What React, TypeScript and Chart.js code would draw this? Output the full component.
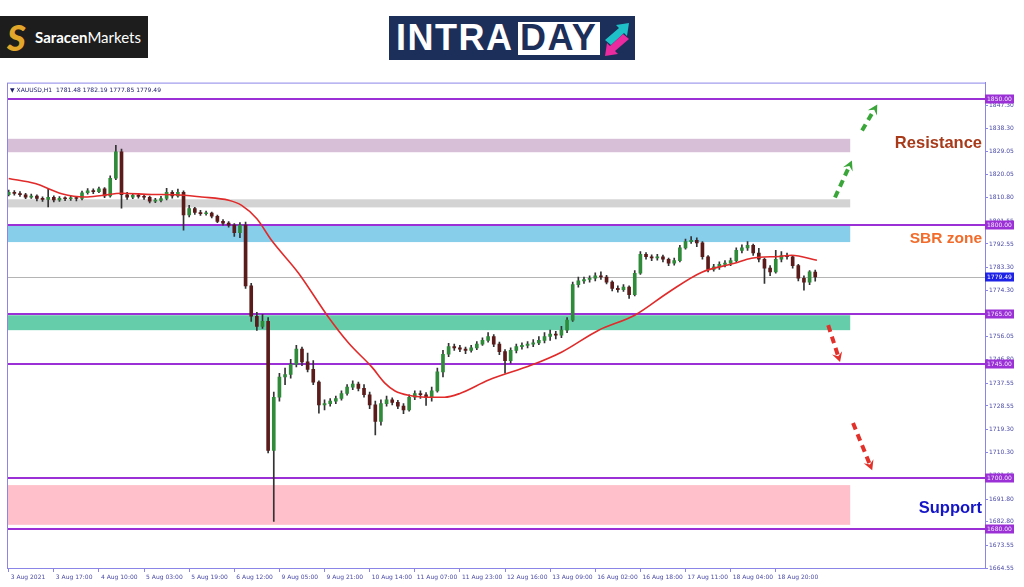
import React, { useEffect, useRef } from "react";
import { Chart, registerables } from "chart.js";
Chart.register(...registerables);

// ---------- data ----------
const xTickIdx = [0, 8, 16, 24, 32, 40, 48, 56, 64, 72, 80, 88, 96, 104, 112, 120, 128, 136];
const xTickLabels = ["3 Aug 2021", "3 Aug 17:00", "4 Aug 10:00", "5 Aug 03:00", "5 Aug 19:00", "6 Aug 12:00", "9 Aug 05:00", "9 Aug 21:00", "10 Aug 14:00", "11 Aug 07:00", "11 Aug 23:00", "12 Aug 16:00", "13 Aug 09:00", "16 Aug 02:00", "16 Aug 18:00", "17 Aug 11:00", "18 Aug 04:00", "18 Aug 20:00"];
const yTicks = [1847.3, 1838.3, 1829.05, 1820.05, 1810.8, 1801.55, 1792.55, 1783.3, 1774.3, 1765.05, 1756.05, 1746.8, 1737.55, 1728.55, 1719.3, 1710.3, 1701.05, 1691.8, 1682.8, 1673.55, 1664.55];

const opens = [1812.0,1813.0,1812.5,1812.0,1811.0,1811.5,1810.5,1810.2,1811.0,1810.0,
1810.6,1810.4,1810.8,1810.5,1812.8,1813.5,1813.2,1814.3,1811.5,1818.5,
1829.0,1812.0,1811.0,1811.8,1811.3,1811.0,1809.5,1809.8,1810.5,1813.0,
1811.5,1813.0,1804.0,1806.5,1805.0,1804.5,1804.8,1803.5,1801.5,1800.8,
1800.0,1797.0,1800.0,1776.0,1764.0,1760.0,1762.0,1711.0,1732.0,1740.0,
1741.0,1745.0,1751.0,1746.0,1743.0,1738.0,1729.0,1729.5,1730.5,1731.5,
1733.5,1736.0,1737.2,1735.5,1733.0,1729.0,1722.5,1729.5,1731.0,1730.0,
1728.5,1727.0,1732.0,1733.5,1733.0,1732.0,1734.5,1742.0,1749.0,1752.0,
1751.5,1751.0,1750.5,1751.5,1753.0,1754.5,1756.0,1753.0,1750.0,1746.5,
1750.5,1752.0,1752.5,1753.0,1753.5,1754.5,1756.0,1757.0,1756.5,1758.5,
1762.5,1776.5,1778.0,1778.5,1779.0,1780.0,1779.5,1777.5,1775.0,1774.5,
1775.5,1772.5,1781.0,1788.5,1787.5,1787.0,1787.5,1786.5,1785.0,1786.0,
1791.0,1793.5,1794.0,1793.0,1787.5,1782.5,1783.5,1784.5,1785.0,1786.0,
1790.0,1791.0,1792.0,1789.0,1786.5,1783.0,1781.5,1786.5,1788.0,1787.5,
1784.0,1779.0,1777.5,1781.48];
const closes = [1813.0,1812.5,1812.0,1811.0,1811.5,1810.5,1810.2,1811.0,1810.0,1810.6,
1810.4,1810.8,1810.5,1812.8,1813.5,1813.2,1814.3,1811.5,1818.5,1829.0,
1812.0,1811.0,1811.8,1811.3,1811.0,1809.5,1809.8,1810.5,1813.0,1811.5,
1813.0,1804.0,1806.5,1805.0,1804.5,1804.8,1803.5,1801.5,1800.8,1800.0,
1797.0,1800.0,1776.0,1764.0,1760.0,1762.0,1711.0,1732.0,1740.0,1741.0,
1745.0,1751.0,1746.0,1743.0,1738.0,1729.0,1729.5,1730.5,1731.5,1733.5,
1736.0,1737.2,1735.5,1733.0,1729.0,1722.5,1729.5,1731.0,1730.0,1728.5,
1727.0,1732.0,1733.5,1733.0,1732.0,1734.5,1742.0,1749.0,1752.0,1751.5,
1751.0,1750.5,1751.5,1753.0,1754.5,1756.0,1753.0,1750.0,1746.5,1750.5,
1752.0,1752.5,1753.0,1753.5,1754.5,1756.0,1757.0,1756.5,1758.5,1762.5,
1776.5,1778.0,1778.5,1779.0,1780.0,1779.5,1777.5,1775.0,1774.5,1775.5,
1772.5,1781.0,1788.5,1787.5,1787.0,1787.5,1786.5,1785.0,1786.0,1791.0,
1793.5,1794.0,1793.0,1787.5,1782.5,1783.5,1784.5,1785.0,1786.0,1790.0,
1791.0,1792.0,1789.0,1786.5,1783.0,1781.5,1786.5,1788.0,1787.5,1784.0,
1779.0,1777.5,1781.5,1779.49];
const highs = [1813.8,1813.6,1813.2,1812.6,1812.3,1812.0,1811.2,1814.3,1811.6,1811.3,
1811.2,1811.5,1811.4,1813.4,1814.4,1814.3,1815.0,1814.8,1819.5,1831.5,
1830.0,1813.0,1812.6,1812.4,1812.0,1811.5,1810.6,1811.4,1814.5,1813.6,
1814.2,1813.5,1807.8,1807.0,1805.8,1805.5,1805.2,1804.0,1802.2,1801.4,
1800.6,1801.0,1801.2,1777.0,1765.5,1764.8,1763.5,1734.0,1741.5,1743.5,
1747.0,1752.5,1751.8,1749.5,1746.5,1738.5,1731.0,1731.5,1732.5,1734.5,
1737.0,1738.5,1738.0,1737.0,1734.0,1730.5,1731.0,1732.5,1731.8,1730.8,
1729.5,1733.0,1734.5,1734.5,1733.8,1736.0,1743.5,1750.5,1753.3,1753.0,
1752.5,1751.8,1752.5,1754.0,1755.5,1757.5,1756.8,1753.8,1750.8,1751.5,
1753.0,1753.5,1754.0,1754.8,1756.0,1757.5,1758.5,1758.0,1760.0,1763.5,
1777.5,1779.5,1779.5,1780.0,1781.2,1781.5,1780.2,1778.0,1776.0,1776.5,
1776.0,1782.0,1789.5,1789.2,1788.3,1788.5,1788.2,1787.0,1787.0,1792.0,
1794.5,1795.5,1795.0,1793.5,1788.0,1784.5,1785.5,1786.0,1787.0,1791.0,
1792.2,1793.5,1792.5,1790.8,1787.0,1784.0,1790.0,1789.5,1789.0,1788.0,
1784.5,1780.0,1782.0,1782.19];
const lows = [1811.5,1811.8,1811.3,1810.4,1810.5,1809.6,1809.4,1807.2,1809.2,1809.4,
1809.7,1809.8,1809.6,1810.0,1812.2,1812.4,1812.8,1810.8,1811.0,1818.0,
1806.7,1810.2,1810.4,1810.6,1810.2,1808.8,1808.9,1809.2,1810.0,1810.6,
1811.0,1798.0,1803.2,1804.2,1803.8,1803.9,1802.8,1801.0,1800.0,1799.2,
1795.5,1795.0,1775.0,1762.0,1758.4,1759.2,1710.0,1683.0,1730.5,1737.0,
1739.5,1744.0,1744.5,1742.0,1737.0,1725.7,1727.0,1728.5,1729.5,1730.8,
1732.8,1735.0,1734.5,1732.0,1727.5,1717.1,1721.0,1728.5,1729.0,1727.5,
1725.5,1726.5,1731.0,1731.5,1728.8,1730.5,1734.0,1740.0,1748.0,1750.5,
1750.0,1749.2,1749.8,1750.8,1752.5,1753.8,1752.0,1748.8,1741.5,1745.5,
1749.5,1751.0,1751.5,1752.0,1752.8,1753.5,1754.5,1755.0,1755.5,1757.5,
1762.0,1775.5,1777.0,1777.5,1778.0,1778.5,1776.8,1774.0,1773.5,1773.8,
1771.0,1772.0,1780.5,1786.5,1786.0,1786.2,1785.5,1784.0,1784.2,1785.5,
1790.5,1792.8,1791.5,1786.5,1781.5,1781.8,1782.5,1783.5,1784.0,1785.5,
1789.0,1790.0,1788.0,1785.5,1777.0,1780.0,1781.0,1785.5,1786.5,1783.0,
1778.0,1774.3,1776.5,1777.85];

// moving average (bar index, price)
const maIdx = [0, 4.7, 9.4, 13.5, 16.5, 20, 25.4, 29.5, 34.2, 39, 41.3, 44, 46.6, 51.4, 56.7, 60.3, 64.4, 66.7, 68.5, 70.9, 75, 77.3, 80, 85.1, 92.7, 98, 104.6, 111, 117, 122.9, 128.7, 131.7, 137, 138.8, 143.3];
const maVals = [1818.4, 1816.4, 1812.4, 1811.1, 1811.7, 1812.6, 1812.1, 1812.0, 1811.1, 1809.8, 1807.8, 1802.5, 1794.0, 1781.0, 1763.6, 1753.3, 1743.9, 1737.6, 1734.5, 1732.8, 1732.0, 1732.0, 1733.5, 1738.8, 1744.7, 1749.8, 1758.5, 1764.4, 1773.5, 1781.4, 1784.9, 1786.9, 1787.7, 1788.1, 1786.1];

const levels = [1850, 1800, 1765, 1745, 1700, 1680];
const currentPrice = 1779.49;
const zoneTops = [1834.1, 1810.2, 1799.9, 1764.4, 1697.3];
const zoneBottoms = [1828.8, 1807.0, 1793.3, 1758.5, 1681.6];
const zoneEndIdx = 149.2;
const upArrowFrom = [[146.5, 1810.9], [151.3, 1837.4]];
const upArrowTo = [[149.5, 1825.5], [154.0, 1847.6]];
const downArrowFrom = [[145.3, 1760.5], [149.7, 1721.8]];
const downArrowTo = [[147.4, 1745.9], [153.1, 1703.2]];
const zoneNames = ["Resistance", "SBR zone", "Support"];
const zoneNamePrices = [1832.2, 1794.8, 1687.9];
const header = "\u25BC XAUUSD,H1  1781.48 1782.19 1777.85 1779.49";

// ---------- styles ----------
const FONT = '"DejaVu Sans", Verdana, sans-serif';
const FRAME = "#8c85e8";
const TICK = "#4a4aa8";
const LEVEL = "#9b30d6";
const BULL = "#2f8a3a";
const BEAR = "#5a1b1b";
const WICK = "#333333";
const zoneColors = ["#d8bfd8", "#d3d3d3", "#87ceeb", "#66cdaa", "#ffc0cb"];
const zoneNameColors = ["#a83a1a", "#f26b2a", "#1515c8"];
const zoneNameSizes = [16.5, 15.5, 16.5];

function drawArrow(ctx: CanvasRenderingContext2D, x1: number, y1: number, x2: number, y2: number, color: string) {
  const ang = Math.atan2(y2 - y1, x2 - x1);
  const hx = x2 - Math.cos(ang) * 7;
  const hy = y2 - Math.sin(ang) * 7;
  ctx.save();
  ctx.strokeStyle = color;
  ctx.lineWidth = 4;
  ctx.setLineDash([7, 5]);
  ctx.beginPath();
  ctx.moveTo(x1, y1);
  ctx.lineTo(hx, hy);
  ctx.stroke();
  ctx.setLineDash([]);
  ctx.fillStyle = color;
  const L = 11, w = 0.5;
  ctx.beginPath();
  ctx.moveTo(x2, y2);
  ctx.lineTo(x2 - Math.cos(ang - w) * L, y2 - Math.sin(ang - w) * L);
  ctx.lineTo(x2 - Math.cos(ang) * 6, y2 - Math.sin(ang) * 6);
  ctx.lineTo(x2 - Math.cos(ang + w) * L, y2 - Math.sin(ang + w) * L);
  ctx.closePath();
  ctx.fill();
  ctx.restore();
}

const overlay = {
  id: "overlay",
  beforeDatasetsDraw(chart: any) {
    const { ctx, chartArea: a, scales } = chart;
    const x = scales.x, y = scales.y;
    ctx.save();
    const xr = x.getPixelForValue(zoneEndIdx);
    zoneTops.forEach((t, k) => {
      const yt = y.getPixelForValue(t);
      const yb = y.getPixelForValue(zoneBottoms[k]);
      ctx.fillStyle = zoneColors[k];
      ctx.fillRect(a.left, yt, xr - a.left, yb - yt);
    });
    const yc = Math.round(y.getPixelForValue(currentPrice)) + 0.5;
    ctx.strokeStyle = "#b4b4b4";
    ctx.lineWidth = 1;
    ctx.beginPath();
    ctx.moveTo(a.left, yc);
    ctx.lineTo(a.right, yc);
    ctx.stroke();
    ctx.strokeStyle = LEVEL;
    ctx.lineWidth = 2;
    levels.forEach((v) => {
      const yy = Math.round(y.getPixelForValue(v));
      ctx.beginPath();
      ctx.moveTo(a.left, yy);
      ctx.lineTo(a.right, yy);
      ctx.stroke();
    });
    ctx.restore();
  },
  afterDraw(chart: any) {
    const { ctx, chartArea: a, scales } = chart;
    const x = scales.x, y = scales.y;
    ctx.save();
    // frame
    ctx.strokeStyle = FRAME;
    ctx.lineWidth = 1;
    ctx.strokeRect(a.left + 0.5, a.top + 0.5, a.right - a.left, a.bottom - a.top);
    // header
    ctx.fillStyle = "#1c1c6c";
    ctx.font = `6px ${FONT}`;
    ctx.textAlign = "left";
    ctx.textBaseline = "middle";
    ctx.fillText(header, a.left + 3, a.top + 7.5);
    // arrows
    upArrowFrom.forEach((f, k) => {
      const t = upArrowTo[k];
      drawArrow(ctx, x.getPixelForValue(f[0]), y.getPixelForValue(f[1]), x.getPixelForValue(t[0]), y.getPixelForValue(t[1]), "#3aa63a");
    });
    downArrowFrom.forEach((f, k) => {
      const t = downArrowTo[k];
      drawArrow(ctx, x.getPixelForValue(f[0]), y.getPixelForValue(f[1]), x.getPixelForValue(t[0]), y.getPixelForValue(t[1]), "#e2312b");
    });
    // zone names
    ctx.textAlign = "right";
    ctx.textBaseline = "middle";
    zoneNames.forEach((n, k) => {
      ctx.font = `bold ${zoneNameSizes[k]}px "Liberation Sans", Arial, sans-serif`;
      ctx.fillStyle = zoneNameColors[k];
      ctx.fillText(n, a.right - 3, y.getPixelForValue(zoneNamePrices[k]));
    });
    // level boxes
    ctx.textAlign = "left";
    ctx.font = `6px ${FONT}`;
    levels.forEach((v) => {
      const yy = Math.round(y.getPixelForValue(v));
      ctx.fillStyle = LEVEL;
      ctx.fillRect(a.right, yy - 4.5, 29, 9);
      ctx.fillStyle = "#f4e8ff";
      ctx.fillText(v.toFixed(2), a.right + 2, yy + 0.5);
    });
    const yc = Math.round(y.getPixelForValue(currentPrice));
    ctx.fillStyle = "#1e22e6";
    ctx.fillRect(a.right, yc - 4.5, 29, 9);
    ctx.fillStyle = "#ffffff";
    ctx.fillText(currentPrice.toFixed(2), a.right + 2, yc + 0.5);
    ctx.restore();
  },
};

function SaracenLogo() {
  return (
    <div style={{ position: "absolute", left: 0, top: 16, width: 148, height: 42, background: "#1d1d1d" }}>
      <div style={{ position: "absolute", left: 7, top: 1, fontFamily: "Lato, sans-serif", fontWeight: 900, fontStyle: "italic", fontSize: 36, lineHeight: "40px", color: "#e2a62a" }}>S</div>
      <div style={{ position: "absolute", left: 35, top: 12, fontFamily: "Lato, sans-serif", fontSize: 15, lineHeight: "18px", color: "#ffffff", whiteSpace: "nowrap" }}>
        <span style={{ fontWeight: 700 }}>Saracen</span>
        <span style={{ fontWeight: 400 }}>Markets</span>
      </div>
    </div>
  );
}

function IntradayLogo() {
  return (
    <div style={{ position: "absolute", left: 389, top: 16, width: 246, height: 44, background: "#1c2e5a" }}>
      <div style={{ position: "absolute", left: 7, top: 3, fontFamily: '"Liberation Sans", Arial, sans-serif', fontWeight: 700, fontSize: 36, lineHeight: "38px", letterSpacing: 1.5, color: "#ffffff" }}>INTRA</div>
      <div style={{ position: "absolute", left: 129, top: 6, width: 82, height: 33, background: "#ffffff" }} />
      <div style={{ position: "absolute", left: 131, top: 3, fontFamily: '"Liberation Sans", Arial, sans-serif', fontWeight: 700, fontSize: 36, lineHeight: "38px", letterSpacing: 1.5, color: "#1c2e5a" }}>DAY</div>
      <svg style={{ position: "absolute", left: 213, top: 4 }} width="30" height="38" viewBox="0 0 30 38">
        <path d="M3 20 L17 8 L14 5 L27 3 L25 16 L22 13 L9 25 Z" fill="#1fc1c9" />
        <path d="M27 19 L13 31 L16 34 L3 36 L5 23 L8 26 L21 14 Z" fill="#ea2a9f" />
      </svg>
    </div>
  );
}

export default function App() {
  const ref = useRef<HTMLCanvasElement>(null);
  useEffect(() => {
    const canvas = ref.current as HTMLCanvasElement;
    const idx = closes.map((_, i) => i);
    const chart = new Chart(canvas, {
      type: "bar",
      data: {
        datasets: [
          {
            type: "line",
            data: maIdx.map((v, k) => ({ x: v, y: maVals[k] })),
            borderColor: "#e12a2a",
            borderWidth: 1.6,
            pointRadius: 0,
            cubicInterpolationMode: "monotone",
            order: 0,
          } as any,
          {
            type: "bar",
            data: idx.map((i) => ({ x: i, y: [opens[i], closes[i]] })),
            backgroundColor: idx.map((i) => (closes[i] >= opens[i] ? BULL : BEAR)),
            barThickness: 3,
            minBarLength: 1,
            grouped: false,
            order: 1,
          } as any,
          {
            type: "bar",
            data: idx.map((i) => ({ x: i, y: [lows[i], highs[i]] })),
            backgroundColor: WICK,
            barThickness: 1,
            grouped: false,
            order: 2,
          } as any,
        ],
      },
      options: {
        responsive: false,
        animation: false,
        devicePixelRatio: 1,
        events: [],
        layout: { padding: { left: 7, top: 4, right: 0, bottom: 0 } },
        plugins: { legend: { display: false }, tooltip: { enabled: false } },
        scales: {
          x: {
            type: "linear",
            offset: false,
            min: -0.3,
            max: 173.1,
            afterBuildTicks: (s: any) => {
              s.ticks = xTickIdx.map((v) => ({ value: v }));
            },
            afterFit: (s: any) => {
              s.height = 19;
            },
            ticks: {
              autoSkip: false,
              maxRotation: 0,
              align: "start",
              labelOffset: 2,
              padding: 2,
              color: TICK,
              font: { family: FONT, size: 6 },
              callback: (_v: any, i: number) => xTickLabels[i],
            },
            grid: { offset: false, drawOnChartArea: false, tickLength: 4, color: FRAME },
            border: { color: FRAME },
          },
          y: {
            type: "linear",
            position: "right",
            min: 1664.55,
            max: 1856.3,
            afterBuildTicks: (s: any) => {
              s.ticks = yTicks.map((v) => ({ value: v }));
            },
            afterFit: (s: any) => {
              s.width = 39;
            },
            ticks: {
              padding: 1,
              color: TICK,
              font: { family: FONT, size: 6 },
              callback: (v: any) => Number(v).toFixed(2),
            },
            grid: { drawOnChartArea: false, tickLength: 3, color: FRAME },
            border: { color: FRAME },
          },
        },
      } as any,
      plugins: [overlay],
    });
    return () => chart.destroy();
  }, []);

  return (
    <div style={{ position: "absolute", left: 0, top: 0, width: 1024, height: 587, background: "#ffffff", overflow: "hidden" }}>
      <SaracenLogo />
      <IntradayLogo />
      <canvas ref={ref} width={1024} height={509} style={{ position: "absolute", left: 0, top: 78, width: 1024, height: 509 }} />
    </div>
  );
}
